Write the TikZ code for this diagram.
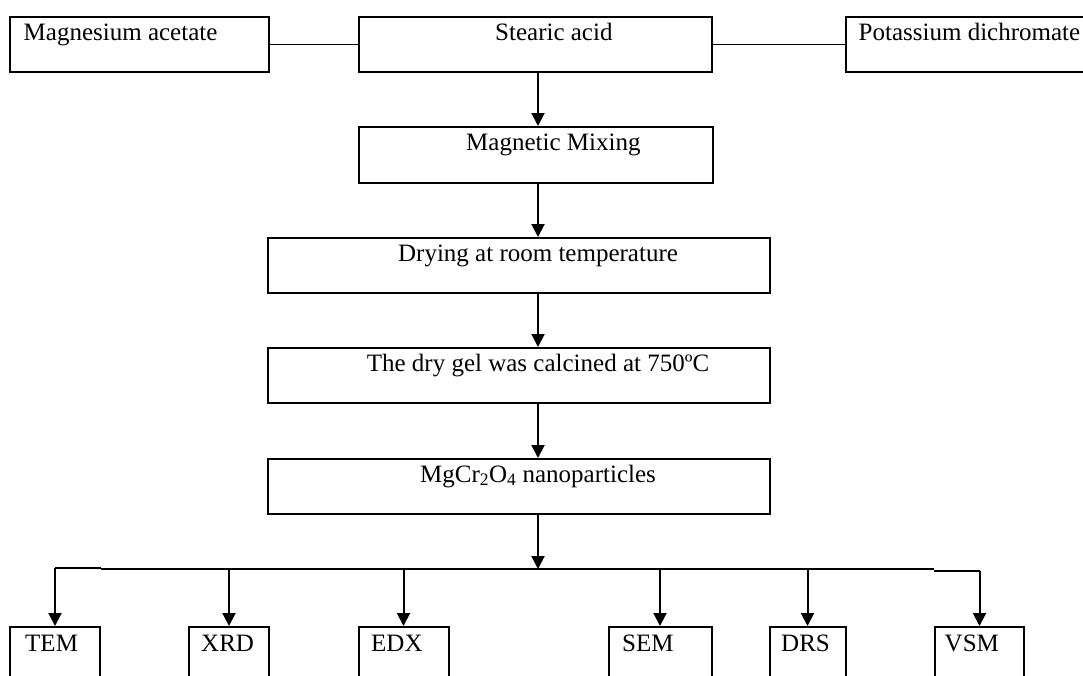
\documentclass[tikz,border=0pt]{standalone}
\usepackage{fontspec}
\setmainfont{Liberation Serif}
\usetikzlibrary{arrows.meta}

\begin{document}
\begin{tikzpicture}[x=1pt, y=-1pt,
		box/.style={draw, line width=2pt, anchor=north west, inner sep=0pt},
		txt/.style={font=\fontsize{25}{30}\selectfont, inner sep=0pt},
		link/.style={line width=1.7pt},
		arr/.style={line width=2pt, -{Triangle[length=13pt, width=13pt]}}]
			%%%%% START %%%%%
			
			\useasboundingbox (0, 0) rectangle (1083, 675);
			\clip (0, 0) rectangle (1083, 675);
			
			\coordinate (axis) at (538, 0);
			\coordinate (bus) at (0, 569);
			\coordinate (lbus) at (0, 567.5);
			\coordinate (rbus) at (0, 570.5);
			
			\node[box, minimum width=259, minimum height=55] (ma) at (9, 16) {};
			\node[box, minimum width=353, minimum height=55] (sa) at (358, 16) {};
			\node[box, minimum width=260, minimum height=55] (pd) at (845, 16) {};
			\node[txt, anchor=base west] (ma-t) at (23.5, 40) {Magnesium acetate};
			\node[txt, anchor=base west] (sa-t) at (495, 40) {Stearic acid};
			\node[txt, anchor=base west] (pd-t) at (858.5, 40) {Potassium dichromate};
			
			\draw[link] (ma.east) -- (sa.west);
			\draw[link] (sa.east) -- (pd.west);
			
			\node[box, minimum width=354, minimum height=56] (mm) at (358, 126) {};
			\node[txt, anchor=base west] (mm-t) at (466, 150) {Magnetic Mixing};
			
			\node[box, minimum width=502, minimum height=55] (dr) at (267, 237) {};
			\node[txt, anchor=base] (dr-t) at (538, 261) {Drying at room temperature};
			
			\node[box, minimum width=502, minimum height=55] (cg) at (267, 347) {};
			\node[txt, anchor=base] (cg-t) at (538, 371) {The dry gel was calcined at 750ºC};
			
			\node[box, minimum width=502, minimum height=55] (mg) at (267, 458) {};
			\node[txt, anchor=base] (mg-t) at (538, 482) {MgCr\textsubscript{2}O\textsubscript{4} nanoparticles};
			
			\draw[arr] (sa.south -| axis) -- (mm.north -| axis);
			\draw[arr] (mm.south -| axis) -- (dr.north -| axis);
			\draw[arr] (dr.south -| axis) -- (cg.north -| axis);
			\draw[arr] (cg.south -| axis) -- (mg.north -| axis);
			\draw[arr] (mg.south -| axis) -- (axis |- bus);
			
			\node[box, minimum width=90, minimum height=80] (tem) at (9, 626) {};
			\node[box, minimum width=80, minimum height=80] (xrd) at (188, 626) {};
			\node[box, minimum width=90, minimum height=80] (edx) at (357.5, 626) {};
			\node[box, minimum width=103, minimum height=80] (sem) at (607.5, 626) {};
			\node[box, minimum width=76, minimum height=80] (drs) at (768.5, 626) {};
			\node[box, minimum width=89, minimum height=80] (vsm) at (934, 626) {};
			\node[txt, anchor=base west] (tem-t) at (25, 651) {TEM};
			\node[txt, anchor=base west] (xrd-t) at (201, 651) {XRD};
			\node[txt, anchor=base west] (edx-t) at (371, 651) {EDX};
			\node[txt, anchor=base west] (sem-t) at (622, 651) {SEM};
			\node[txt, anchor=base west] (drs-t) at (781, 651) {DRS};
			\node[txt, anchor=base west] (vsm-t) at (944.5, 651) {VSM};
			
			\draw[link, line width=2pt] (tem.north |- lbus) -- (tem.north east |- lbus);
			\draw[link, line width=2pt] (tem.north east |- bus) -- (vsm.north west |- bus);
			\draw[link, line width=2pt] (vsm.north west |- rbus) -- (vsm.north |- rbus);
			
			\draw[arr] (tem.north |- lbus) -- (tem.north);
			\draw[arr] (xrd.north |- bus) -- (xrd.north);
			\draw[arr] (edx.north |- bus) -- (edx.north);
			\draw[arr] (sem.north |- bus) -- (sem.north);
			\draw[arr] (drs.north |- bus) -- (drs.north);
			\draw[arr] (vsm.north |- rbus) -- (vsm.north);
			
			%%%%% END %%%%%
\end{tikzpicture}
\end{document}
